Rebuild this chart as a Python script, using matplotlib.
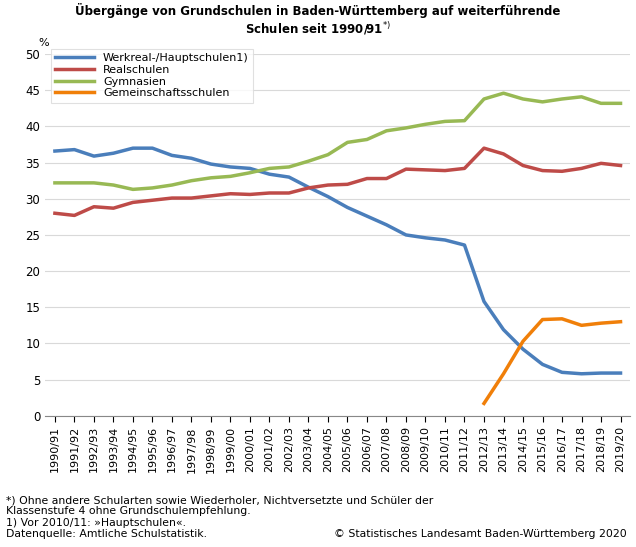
import matplotlib.pyplot as plt
import numpy as np

years = ["1990/91", "1991/92", "1992/93", "1993/94", "1994/95", "1995/96", "1996/97", "1997/98",
         "1998/99", "1999/00", "2000/01", "2001/02", "2002/03", "2003/04", "2004/05", "2005/06",
         "2006/07", "2007/08", "2008/09", "2009/10", "2010/11", "2011/12", "2012/13", "2013/14",
         "2014/15", "2015/16", "2016/17", "2017/18", "2018/19", "2019/20"]
werkreal = [36.6, 36.8, 35.9, 36.3, 37.0, 37.0, 36.0, 35.6, 34.8, 34.4, 34.2, 33.4, 33.0, 31.6, 30.3,
            28.8, 27.6, 26.4, 25.0, 24.6, 24.3, 23.6, 15.8, 11.9, 9.2, 7.1, 6.0, 5.8, 5.9, 5.9]
real = [28.0, 27.7, 28.9, 28.7, 29.5, 29.8, 30.1, 30.1, 30.4, 30.7, 30.6, 30.8, 30.8, 31.5, 31.9,
        32.0, 32.8, 32.8, 34.1, 34.0, 33.9, 34.2, 37.0, 36.2, 34.6, 33.9, 33.8, 34.2, 34.9, 34.6]
gym = [32.2, 32.2, 32.2, 31.9, 31.3, 31.5, 31.9, 32.5, 32.9, 33.1, 33.6, 34.2, 34.4, 35.2, 36.1,
       37.8, 38.2, 39.4, 39.8, 40.3, 40.7, 40.8, 43.8, 44.6, 43.8, 43.4, 43.8, 44.1, 43.2, 43.2]
gemein = [1.7, 5.8, 10.3, 13.3, 13.4, 12.5, 12.8, 13.0]  # ab 2012/13

plt.rcParams['font.family'] = 'DejaVu Sans'
fig = plt.figure(figsize=(6.36, 5.47), dpi=100)
ax = fig.add_axes([0.071, 0.24, 0.92, 0.661])
x = np.arange(len(years))
ax.plot(x, werkreal, color='#4a7ebb', lw=2.5, label='Werkreal-/Hauptschulen1)')
ax.plot(x, real, color='#be4b48', lw=2.5, label='Realschulen')
ax.plot(x, gym, color='#98b954', lw=2.5, label='Gymnasien')
ax.plot(x[-len(gemein):], gemein, color='#f07f09', lw=2.5, label='Gemeinschaftsschulen')

ax.set_xlim(-0.5, len(years) - 0.5)
ax.set_ylim(0, 50)
ax.set_yticks(range(0, 51, 5))
ax.set_xticks(x)
ax.set_xticklabels(years, rotation=90, fontsize=8)
ax.tick_params(axis='y', labelsize=8.5, length=0)
ax.tick_params(axis='x', length=4)
ax.grid(axis='y', color='#d9d9d9', lw=0.8)
ax.set_axisbelow(True)
for s in ['top', 'right', 'left']:
    ax.spines[s].set_visible(False)
ax.spines['bottom'].set_color('#888888')
leg = ax.legend(loc='upper left', bbox_to_anchor=(0.0, 1.03), fontsize=8, frameon=True,
                fancybox=False, edgecolor='#d9d9d9', handlelength=3.5, labelspacing=0.15)
leg.get_frame().set_linewidth(0.8)

fig.text(0.06, 0.915, '%', fontsize=8)
fig.text(0.5, 0.995, 'Übergänge von Grundschulen in Baden-Württemberg auf weiterführende\n'
         'Schulen seit 1990/91$^{*)}$', ha='center', va='top', fontsize=8.5, fontweight='bold')
fig.text(0.01, 0.015, '*) Ohne andere Schularten sowie Wiederholer, Nichtversetzte und Schüler der\n'
         'Klassenstufe 4 ohne Grundschulempfehlung.\n1) Vor 2010/11: »Hauptschulen«.\n'
         'Datenquelle: Amtliche Schulstatistik.', fontsize=7.8, va='bottom', linespacing=1.15)
fig.text(0.985, 0.015, '© Statistisches Landesamt Baden-Württemberg 2020', fontsize=7.8,
         ha='right', va='bottom')
fig.savefig('out.png', dpi=100)
